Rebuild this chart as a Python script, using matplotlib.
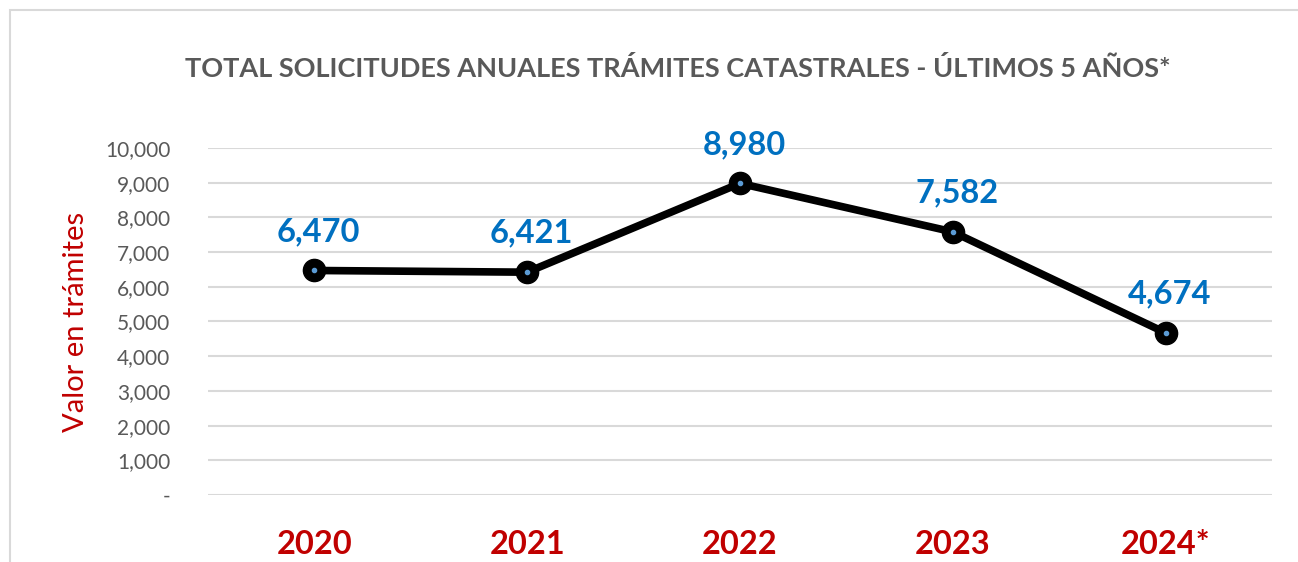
import matplotlib.pyplot as plt
from matplotlib.patches import Rectangle

years = ["2020", "2021", "2022", "2023", "2024*"]
solicitudes = [6470, 6421, 8980, 7582, 4674]
y_ticks = [0, 1000, 2000, 3000, 4000, 5000, 6000, 7000, 8000, 9000, 10000]

plt.rcParams['font.family'] = ['Lato', 'DejaVu Sans']

fig = plt.figure(figsize=(12.98, 5.62), dpi=100)
ax = fig.add_axes([0.1602, 0.1192, 0.98 - 0.1602, 0.7367 - 0.1192])

# chart frame like the spreadsheet export
fig.patches.append(Rectangle((10 / 1298, -0.05), 1.1, 1 - 10 / 562 + 0.05,
                             transform=fig.transFigure, fill=False,
                             edgecolor="#D9D9D9", linewidth=1.5))

x = list(range(len(years)))
ax.plot(x, solicitudes, color="black", linewidth=5.5, marker="o", markersize=16,
        markerfacecolor="black", markeredgecolor="black", zorder=3)
# small blue centre dot
ax.plot(x, solicitudes, linestyle="none", marker="o", markersize=3,
        color="#5B9BD5", zorder=4)

for xi, v in zip(x, solicitudes):
    ax.annotate(f"{v:,}", (xi, v), xytext=(3, 28), textcoords="offset points",
                ha="center", va="center", fontsize=23.5, fontweight="bold",
                color="#0070C0")

ax.set_xlim(-0.5, len(years) - 0.5)
ax.set_ylim(0, 10000)
ax.set_yticks(y_ticks)
ax.set_yticklabels(["-" if t == 0 else f"{t:,}" for t in y_ticks],
                   fontsize=15, color="#595959")
ax.set_xticks(x)
ax.set_xticklabels(years, fontsize=23.5, fontweight="bold", color="#C00000")
ax.tick_params(axis="y", length=0, pad=27)
ax.tick_params(axis="x", length=0, pad=25)
ax.grid(axis="y", color="#D9D9D9", linewidth=1.5)
ax.set_axisbelow(True)
for s in ax.spines.values():
    s.set_visible(False)

ax.set_ylabel("Valor en trámites", fontsize=21, color="#C00000")
ax.yaxis.set_label_coords(-0.112, 0.5)

fig.text(0.522, 1 - 68 / 562, "TOTAL SOLICITUDES ANUALES TRÁMITES CATASTRALES - ÚLTIMOS 5 AÑOS*",
         ha="center", va="center", fontsize=19.5, fontweight="bold", color="#595959")

fig.savefig("out.png", dpi=100)
